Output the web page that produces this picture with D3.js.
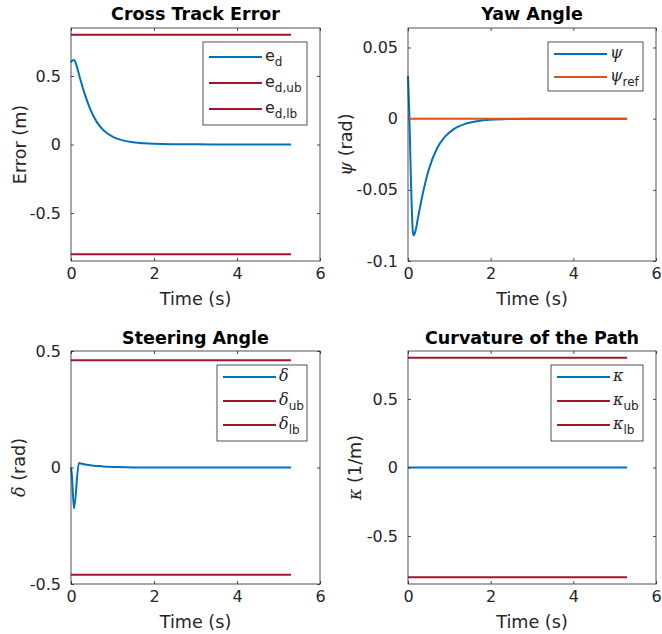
<!DOCTYPE html>
<html>
<head>
<meta charset="utf-8">
<script src="https://cdn.jsdelivr.net/npm/d3@7"></script>
<style>
  body { margin: 0; background: #fff; }
  text { font-family: "DejaVu Sans", sans-serif; fill: #262626; }
  .greek { font-family: "DejaVu Serif", serif; font-style: italic; }
</style>
</head>
<body>
<script>
// values
var tEnd = 5.3;
var xTicks = [0, 2, 4, 6];

var errTime = [0, 0.04, 0.08, 0.14, 0.22, 0.34, 0.46, 0.62, 0.78, 1.0, 1.25, 1.5, 1.75, 2.0, 2.5, 3.0, 4.0, 5.3];
var errD    = [0.60, 0.615, 0.615, 0.57, 0.48, 0.36, 0.26, 0.165, 0.105, 0.058, 0.03, 0.016, 0.009, 0.005, 0.002, 0.001, 0, 0];
var errBound = 0.8;
var errTicks = [-0.5, 0, 0.5];

var yawTime = [0, 0.03, 0.06, 0.09, 0.12, 0.14, 0.18, 0.24, 0.34, 0.5, 0.7, 0.9, 1.1, 1.4, 1.7, 2.0, 2.5, 3.0, 4.0, 5.3];
var yaw     = [0.030, 0.005, -0.03, -0.062, -0.08, -0.082, -0.079, -0.070, -0.055, -0.036, -0.021, -0.0125, -0.0075, -0.0035, -0.0017, -0.0008, -0.0002, 0, 0, 0];
var yawRef = 0;
var yawTicks = [-0.1, -0.05, 0, 0.05];

var steerTime = [0, 0.02, 0.072, 0.19, 0.26, 0.38, 0.55, 0.7, 0.9, 1.1, 1.5, 2.0, 5.3];
var steer     = [0, -0.03, -0.176, 0.019, 0.016, 0.012, 0.008, 0.006, 0.003, 0.002, 0.0005, 0, 0];
var steerBound = 0.46;
var steerTicks = [-0.5, 0, 0.5];

var curvTime = [0, 5.3];
var curv = [0, 0];
var curvBound = 0.8;
var curvTicks = [-0.5, 0, 0.5];

var blue = '#0072BD', red = '#A2142F', orange = '#D95319';

var svg = d3.select('body').append('svg')
  .attr('width', 662)
  .attr('height', 634);

var zip = function(ts, vs) {
  return ts.map(function(t, i) { return [t, vs[i]]; });
};

var flat = function(v) {
  return [[0, v], [tEnd, v]];
};

// label parts: [text, isGreek, isSub]
var addLabel = function(sel, parts, size) {
  parts.forEach(function(p) {
    var ts = sel.append('tspan').text(p[0]);
    if (p[1]) ts.attr('class', 'greek');
    if (p[2]) ts.attr('font-size', size * 0.75).attr('dy', size * 0.3);
    else if (p.length > 2 && p[2] === false) ts.attr('dy', -size * 0.3);
  });
};

var drawPanel = function(o) {
  var w = o.w, h = o.h;
  var g = svg.append('g').attr('transform', 'translate(' + o.left + ',' + o.top + ')');

  var x = d3.scaleLinear().domain([0, 6]).range([0, w]);
  var y = d3.scaleLinear().domain(o.yDomain).range([h, 0]);

  var fmt = function(d) { return String(d); };

  var xa = g.append('g').attr('transform', 'translate(0,' + h + ')')
    .call(d3.axisBottom(x).tickValues(xTicks).tickFormat(fmt).tickSize(-3).tickPadding(7));
  g.append('g').call(d3.axisTop(x).tickValues(xTicks).tickFormat('').tickSize(-3));
  var ya = g.append('g')
    .call(d3.axisLeft(y).tickValues(o.yTicks).tickFormat(fmt).tickSize(-3).tickPadding(10));
  g.append('g').attr('transform', 'translate(' + w + ',0)')
    .call(d3.axisRight(y).tickValues(o.yTicks).tickFormat('').tickSize(-3));

  g.selectAll('.domain').remove();
  g.selectAll('.tick line').attr('stroke', '#262626').attr('stroke-width', 0.8);
  g.selectAll('.tick text').attr('font-size', 16).attr('fill', '#262626')
    .style('font-family', '"DejaVu Sans", sans-serif');

  var line = d3.line()
    .x(function(d) { return x(d[0]); })
    .y(function(d) { return y(d[1]); })
    .curve(d3.curveMonotoneX);

  o.series.forEach(function(s) {
    g.append('path')
      .attr('d', line(s.data))
      .attr('fill', 'none')
      .attr('stroke', s.color)
      .attr('stroke-width', 2);
  });

  g.append('rect')
    .attr('width', w).attr('height', h)
    .attr('fill', 'none')
    .attr('stroke', '#262626')
    .attr('stroke-width', 0.8);

  g.append('text')
    .attr('x', w / 2).attr('y', o.titleY)
    .attr('text-anchor', 'middle')
    .attr('font-size', 17.5)
    .attr('font-weight', 'bold')
    .style('fill', '#000')
    .text(o.title);

  g.append('text')
    .attr('x', w / 2).attr('y', h + 44)
    .attr('text-anchor', 'middle')
    .attr('font-size', 17.6)
    .text('Time (s)');

  var yl = g.append('text')
    .attr('transform', 'translate(' + o.ylabelX + ',' + h / 2 + ') rotate(-90)')
    .attr('text-anchor', 'middle')
    .attr('font-size', 17.6);
  addLabel(yl, o.ylabel, 17.6);

  // legend
  var L = o.legend;
  var lg = g.append('g').attr('transform', 'translate(' + L.x + ',' + L.y + ')');
  lg.append('rect')
    .attr('width', L.w).attr('height', L.h)
    .attr('fill', '#fff')
    .attr('stroke', '#262626')
    .attr('stroke-width', 0.8);
  o.series.forEach(function(s, i) {
    var ly = L.first + i * L.step;
    lg.append('line')
      .attr('x1', 6).attr('x2', 59)
      .attr('y1', ly).attr('y2', ly)
      .attr('stroke', s.color)
      .attr('stroke-width', 2);
    var t = lg.append('text')
      .attr('x', 62).attr('y', ly + 4)
      .attr('font-size', 16);
    addLabel(t, s.label, 16);
  });
};

drawPanel({
  left: 71, top: 28, w: 249, h: 233,
  yDomain: [-0.85, 0.85], yTicks: errTicks,
  title: 'Cross Track Error', titleY: -8,
  ylabel: [['Error (m)']], ylabelX: -45,
  series: [
    { data: zip(errTime, errD), color: blue, label: [['e'], ['d', false, true]] },
    { data: flat(errBound), color: red, label: [['e'], ['d,ub', false, true]] },
    { data: flat(-errBound), color: red, label: [['e'], ['d,lb', false, true]] }
  ],
  legend: { x: 132, y: 14, w: 104, h: 83, first: 15, step: 26 }
});

drawPanel({
  left: 408, top: 28, w: 248, h: 233,
  yDomain: [-0.1, 0.0637], yTicks: yawTicks,
  title: 'Yaw Angle', titleY: -8,
  ylabel: [['\u03C8', true], [' (rad)']], ylabelX: -56,
  series: [
    { data: zip(yawTime, yaw), color: blue, label: [['\u03C8', true]] },
    { data: flat(yawRef), color: orange, label: [['\u03C8', true], ['ref', false, true]] }
  ],
  legend: { x: 140, y: 14, w: 95, h: 49, first: 12, step: 23 }
});

drawPanel({
  left: 71, top: 351, w: 249, h: 233,
  yDomain: [-0.5, 0.5], yTicks: steerTicks,
  title: 'Steering Angle', titleY: -7,
  ylabel: [['\u03B4', true], [' (rad)']], ylabelX: -46,
  series: [
    { data: zip(steerTime, steer), color: blue, label: [['\u03B4', true]] },
    { data: flat(steerBound), color: red, label: [['\u03B4', true], ['ub', false, true]] },
    { data: flat(-steerBound), color: red, label: [['\u03B4', true], ['lb', false, true]] }
  ],
  legend: { x: 146, y: 14, w: 90, h: 76, first: 12, step: 24 }
});

drawPanel({
  left: 408, top: 351, w: 248, h: 233,
  yDomain: [-0.85, 0.85], yTicks: curvTicks,
  title: 'Curvature of the Path', titleY: -7,
  ylabel: [['\u03BA', true], [' (1/m)']], ylabelX: -47,
  series: [
    { data: zip(curvTime, curv), color: blue, label: [['\u03BA', true]] },
    { data: flat(curvBound), color: red, label: [['\u03BA', true], ['ub', false, true]] },
    { data: flat(-curvBound), color: red, label: [['\u03BA', true], ['lb', false, true]] }
  ],
  legend: { x: 143, y: 14, w: 92, h: 76, first: 12, step: 24 }
});
</script>
</body>
</html>
